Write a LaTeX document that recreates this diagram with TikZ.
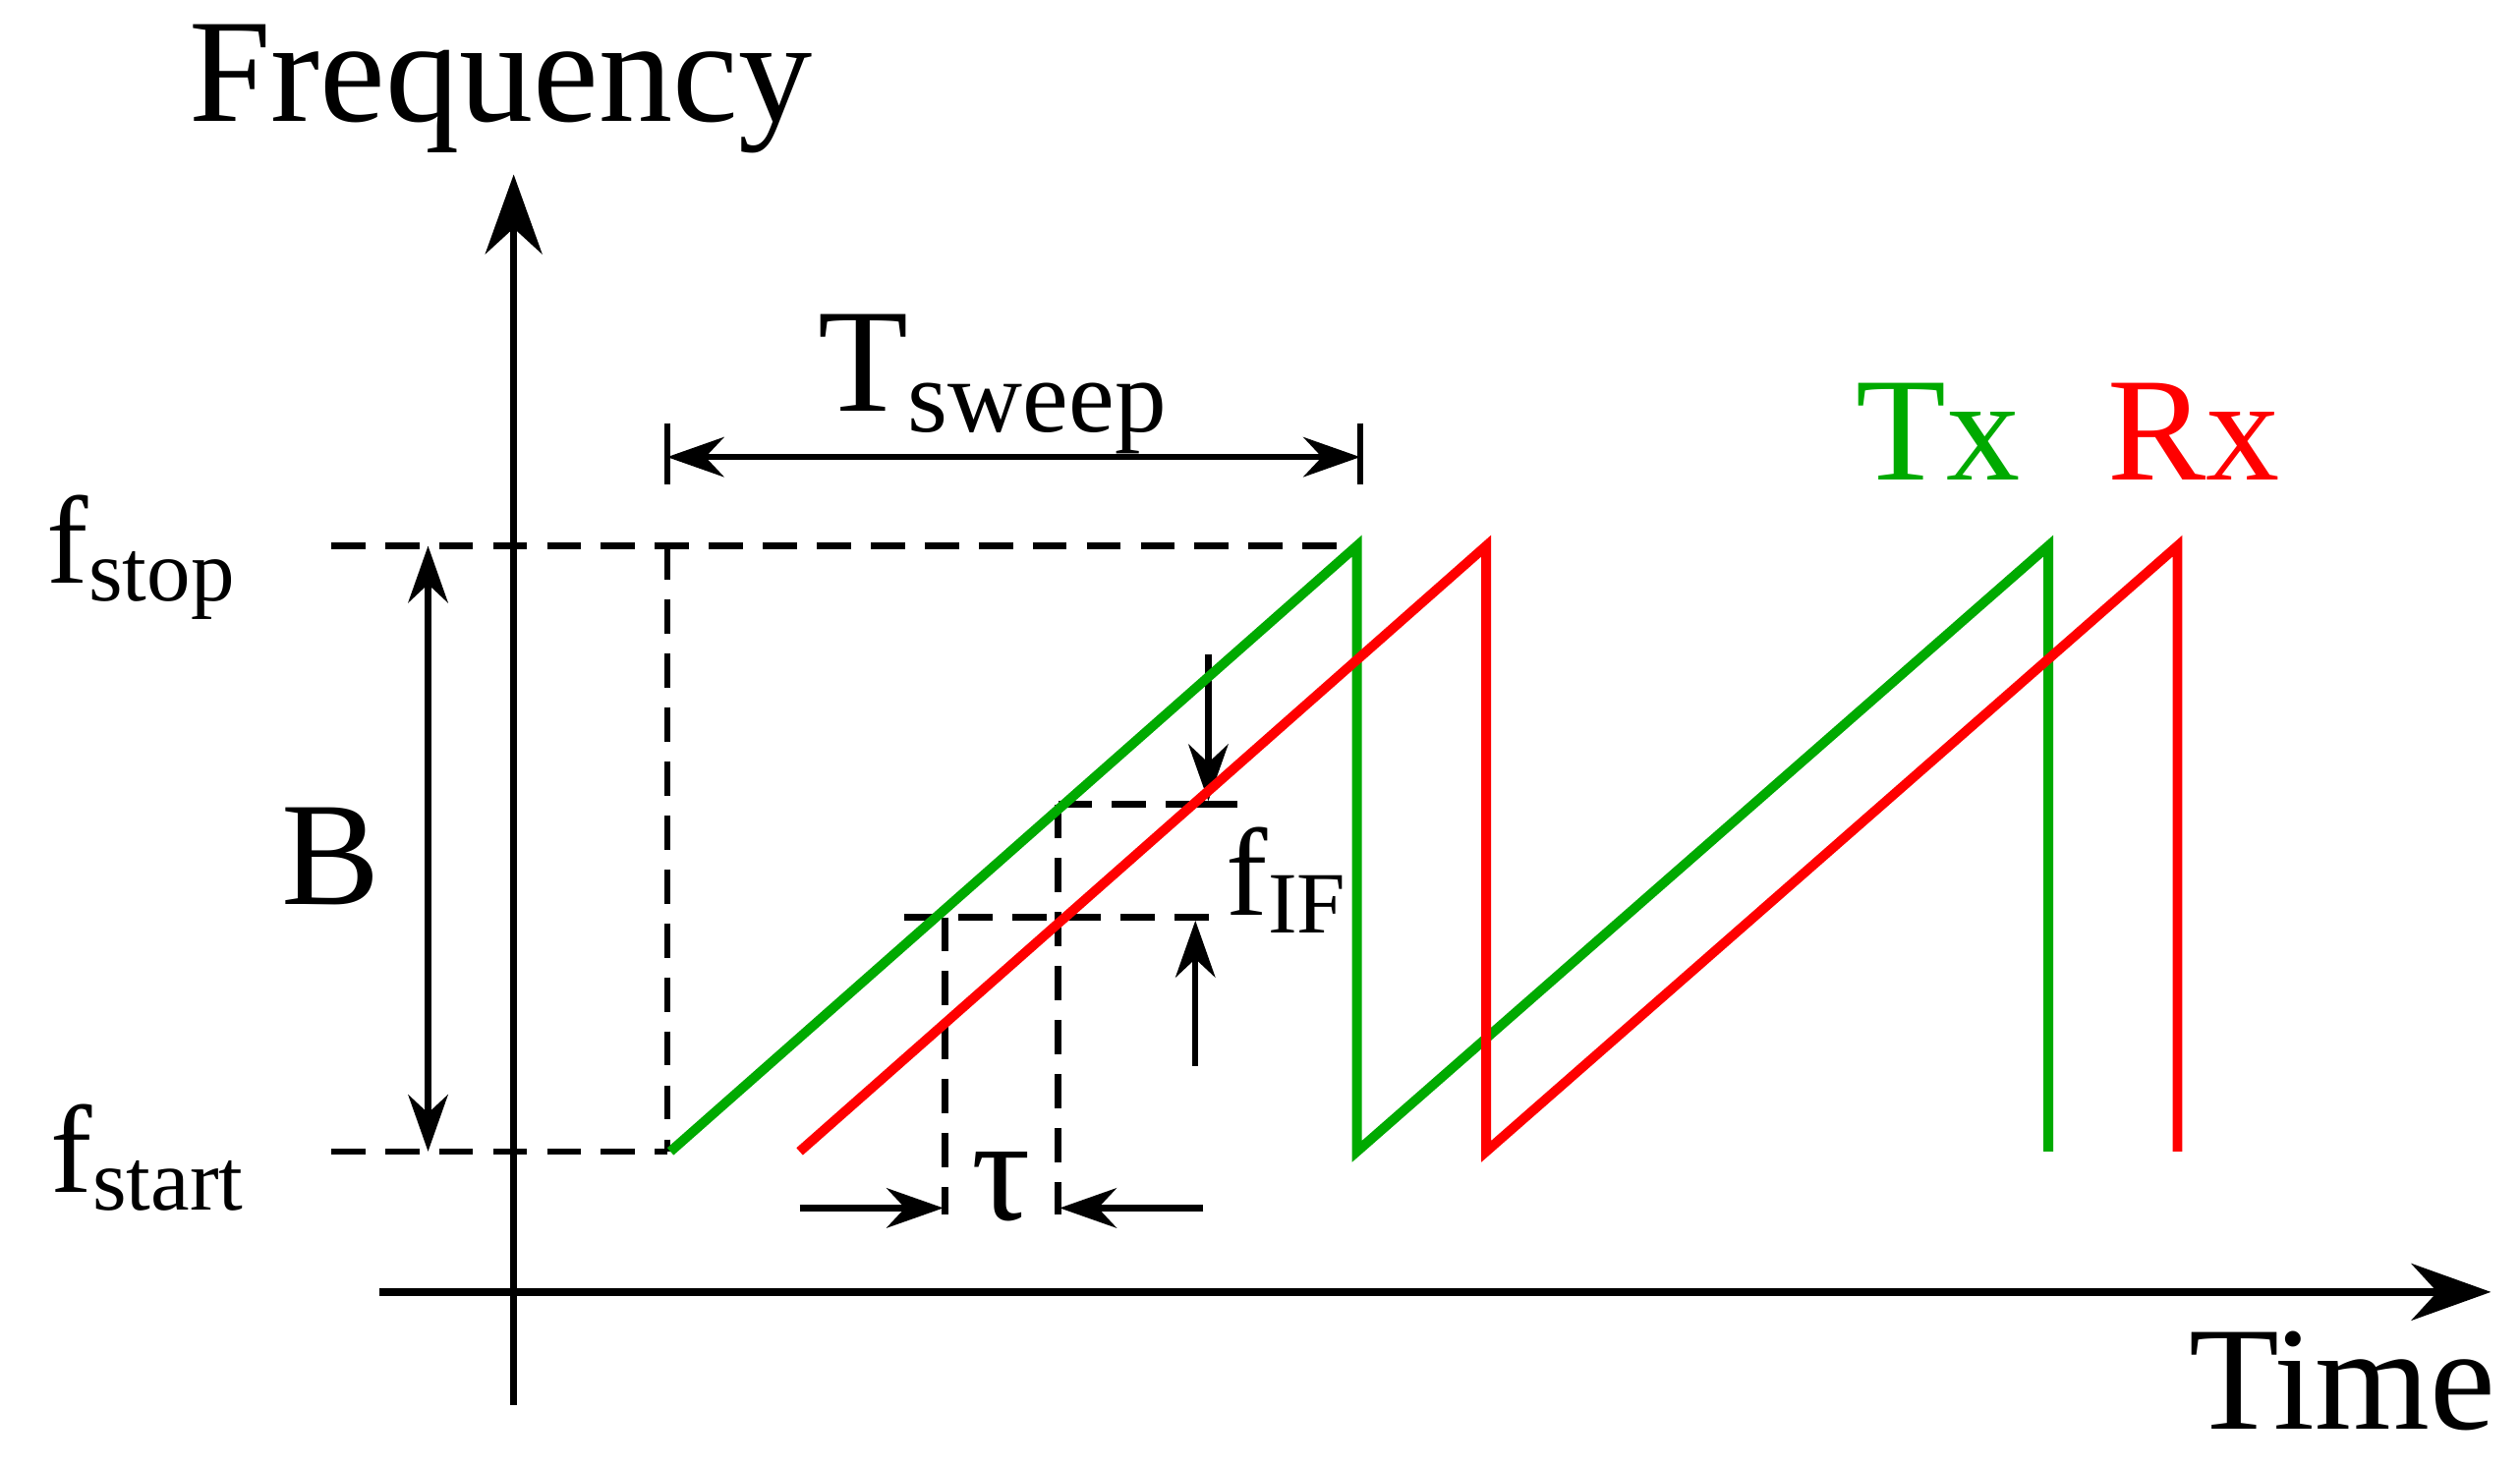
\documentclass[tikz,border=0pt]{standalone}
\usepackage{fontspec}
\setmainfont{Liberation Serif}
\usetikzlibrary{arrows.meta}
\definecolor{txg}{RGB}{0,170,0}
\definecolor{rxr}{RGB}{255,0,0}
\begin{document}
\begin{tikzpicture}[x=0.01cm,y=-0.01cm,
  ax/.style={line width=1.3pt,-{Stealth[length=14pt,width=10pt]}},
  dim/.style={line width=1.1pt,{Stealth[length=10pt,width=7pt]}-{Stealth[length=10pt,width=7pt]}},
  one/.style={line width=1.1pt,-{Stealth[length=10pt,width=7pt]}},
  dsh/.style={line width=1.1pt,dash pattern=on 6pt off 3.5pt},
  tx/.style={line width=1.7pt,txg},
  rx/.style={line width=1.7pt,rxr},
  lab/.style={font=\fontsize{22}{26}\selectfont,inner sep=0pt},
  big/.style={font=\fontsize{26}{30}\selectfont,inner sep=0pt}]
\useasboundingbox (0,0) rectangle (1560,908);
% axes
\coordinate (yb) at (318,870); \coordinate (yt) at (318,108);
\coordinate (xl) at (235,800); \coordinate (xr) at (1542,800);
\draw[ax] (yb) -- (yt);
\draw[ax] (xl) -- (xr);
\node[big] (freq) at (310,55) {Frequency};
\node[big] (time) at (1450,855) {Time};
% dashed guides
\coordinate (s0) at (205,338); \coordinate (s1) at (842,338);
\coordinate (a0) at (205,713); \coordinate (a1) at (413,713);
\coordinate (v0) at (413,338);
\draw[dsh] (s0) -- (s1);
\draw[dsh] (a0) -- (a1);
\draw[dsh] (v0) -- (a1);
\draw[dsh] (655,498) -- (760,498);
\draw[dsh] (560,568) -- (760,568);
\draw[dsh] (585,568) -- (585,752);
\draw[dsh] (655,498) -- (655,752);
% labels
\node[lab] (fstop) at (88,345) {f\textsubscript{stop}};
\node[lab] (fstart) at (92,717) {f\textsubscript{start}};
\node[big] (B) at (205,530) {B};
\node[big] (Ts) at (615,238) {T\textsubscript{sweep}};
\node[big,txg] (Tx) at (1200,267) {Tx};
\node[big,rxr] (Rx) at (1358,267) {Rx};
\node[lab] (fif) at (797,545) {f\textsubscript{IF}};
\node[big] (tau) at (620,735) {τ};
% dimension arrows
\coordinate (b0) at (265,338); \coordinate (b1) at (265,713);
\draw[dim] (b0) -- (b1);
\coordinate (t0) at (413,283); \coordinate (t1) at (842,283);
\draw[dim] (t0) -- (t1);
\draw[line width=1.1pt] (413,262) -- (413,300) (842,262) -- (842,300);
\coordinate (f0) at (748,405); \coordinate (f1) at (748,496);
\draw[one] (f0) -- (f1);
\draw[line width=1.1pt] (730,498) -- (766,498);
\coordinate (g0) at (740,660); \coordinate (g1) at (740,570);
\draw[one] (g0) -- (g1);
\coordinate (u0) at (495,748); \coordinate (u1) at (584,748);
\draw[one] (u0) -- (u1);
\coordinate (w0) at (745,748); \coordinate (w1) at (656,748);
\draw[one] (w0) -- (w1);
% signals
\draw[tx] (415,713) -- (840,338) -- (840,713) -- (1268,338) -- (1268,713);
\draw[rx] (495,713) -- (920,338) -- (920,713) -- (1348,338) -- (1348,713);
\end{tikzpicture}
\end{document}
